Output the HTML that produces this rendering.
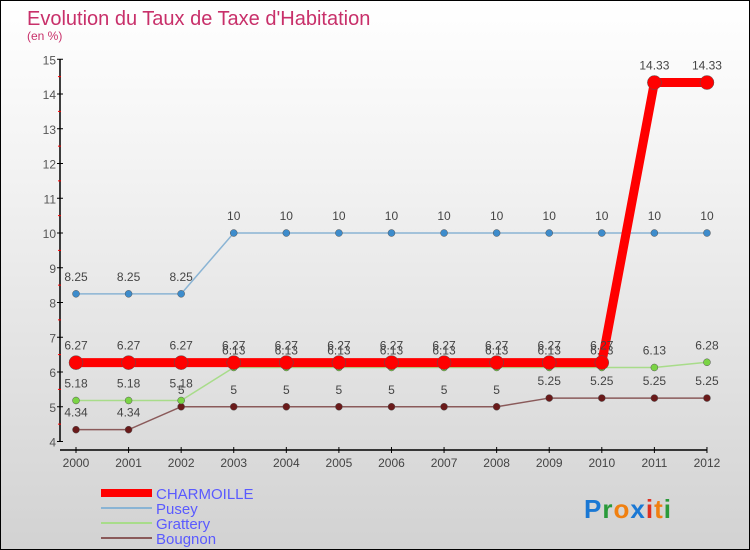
<!DOCTYPE html>
<html><head><meta charset="utf-8"><style>
body{margin:0}
#c{width:748px;height:548px;border:1px solid #000;background:linear-gradient(#fff,#f3f3f3 30%,#d2d2d2);position:relative;font-family:"Liberation Sans",sans-serif;overflow:hidden}
</style></head><body>
<div id="c">
<svg id="s" width="748" height="548" xmlns="http://www.w3.org/2000/svg">
<text x="26" y="24" font-size="20" fill="#c8306a">Evolution du Taux de Taxe d'Habitation</text>
<text x="26" y="39" font-size="12" fill="#c8306a">(en %)</text>
<g id="g"></g>
<text x="197" y="124" font-size="0"></text>
</svg>
</div>
<script>
const years=[2000,2001,2002,2003,2004,2005,2006,2007,2008,2009,2010,2011,2012];
const charmoille=[6.27,6.27,6.27,6.27,6.27,6.27,6.27,6.27,6.27,6.27,6.27,14.33,14.33];
const pusey=[8.25,8.25,8.25,10,10,10,10,10,10,10,10,10,10];
const grattery=[5.18,5.18,5.18,6.13,6.13,6.13,6.13,6.13,6.13,6.13,6.13,6.13,6.28];
const bougnon=[4.34,4.34,5,5,5,5,5,5,5,5.25,5.25,5.25,5.25];
const yTicks=[4,5,6,7,8,9,10,11,12,13,14,15];
const NS='http://www.w3.org/2000/svg';
const g=document.getElementById('g');
function X(i){return 75+i*52.58;}
function Y(v){return 232-(v-10)*34.75;}
function el(t,a,p){const e=document.createElementNS(NS,t);for(const k in a)e.setAttribute(k,a[k]);(p||g).appendChild(e);return e;}
// axes
let ya=el('line',{x1:59,y1:Y(15),x2:59,y2:Y(4),stroke:'#000','stroke-width':1.5});


let xa=el('line',{x1:59,y1:449,x2:X(12),y2:449,stroke:'#000','stroke-width':1.5});


yTicks.forEach(v=>{
  el('line',{x1:56,y1:Y(v),x2:62,y2:Y(v),stroke:'#000'});
  if(v<15)el('line',{x1:57,y1:Y(v+0.5),x2:60,y2:Y(v+0.5),stroke:'#f00'});
  const t=el('text',{x:55,y:Y(v)+5,'font-size':12,fill:'#555','text-anchor':'end'});t.textContent=v;
  
  
});
years.forEach((y,i)=>{
  el('line',{x1:X(i),y1:446,x2:X(i),y2:452,stroke:'#000'});
  const t=el('text',{x:X(i),y:466,'font-size':12,fill:'#444','text-anchor':'middle'});t.textContent=y;
  
  
});
function series(data,color,dot,w,r,name,labels){
  const p=el('polyline',{points:data.map((v,i)=>X(i)+','+Y(v)).join(' '),fill:'none',stroke:color,'stroke-width':w});
  
  
  data.forEach((v,i)=>{
    const c=el('circle',{cx:X(i),cy:Y(v),r:r,fill:dot,stroke:'#555','stroke-width':0.5});
    
    
    if(labels){const t=el('text',{x:X(i),y:Y(v)-13,'font-size':12,fill:'#444','text-anchor':'middle'});t.textContent=v;
    
    }
  });
}
series(pusey,'#8ab4d4','#3d8ccc',1.5,3.5,'pusey',true);
series(bougnon,'#8a5a5a','#6a1a1a',1.5,3.5,'bougnon',true);
series(grattery,'#a8dc8a','#7ad444',1.5,3.5,'grattery',true);
series(charmoille,'#f00','#f00',9,7,'charmoille',true);
// legend
const leg=[['CHARMOILLE','#f00',8],['Pusey','#8ab4d4',2],['Grattery','#a8dc8a',2],['Bougnon','#8a5a5a',2]];
leg.forEach((l,i)=>{
  const y=492+i*15;
  el('line',{x1:100,y1:y,x2:151,y2:y,stroke:l[1],'stroke-width':l[2]});
  const t=el('text',{x:155,y:y+6,'font-size':15,fill:'#5a5aff'});t.textContent=l[0];
  
  
});
// logo
const lg=el('text',{x:583,y:517,'font-size':26,'font-weight':'bold','letter-spacing':1});


[['P','#1a78d4'],['r','#2a9a3a'],['o','#f08010'],['x','#1a78d4'],['i','#e03020'],['t','#f08010'],['i','#2a9a3a']].forEach(a=>{const s=el('tspan',{fill:a[1]},lg);s.textContent=a[0];});
</script>
</body></html>
